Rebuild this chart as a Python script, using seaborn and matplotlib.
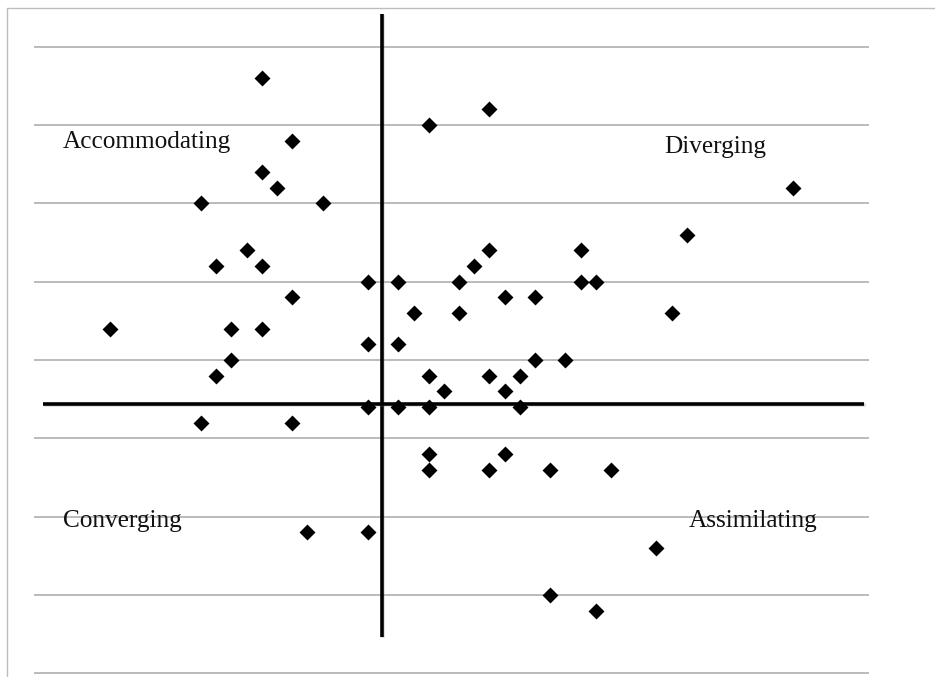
import matplotlib
matplotlib.use("Agg")
import matplotlib.pyplot as plt
import matplotlib.patheffects as pe
from matplotlib.lines import Line2D
import seaborn as sns
import pandas as pd

# ---- data ----
x_vals = [15, 17, 15, 16, 11, 19, 14, 12, 15, 17, 5, 13, 15, 13, 12, 11, 17, 18, 22, 22, 22, 22,
          26, 30, 50, 43, 30, 29, 36, 24, 28, 36, 37, 25, 28, 31, 33, 42, 24, 33, 35, 26, 30, 32,
          27, 31, 24, 26, 32, 26, 26, 30, 31, 34, 38, 41, 34, 37]
y_vals = [38, 34, 32, 31, 30, 30, 27, 26, 26, 24, 22, 22, 22, 20, 19, 16, 16, 9, 9, 25, 21, 17,
          35, 36, 31, 28, 27, 26, 27, 25, 25, 25, 25, 23, 23, 24, 24, 23, 21, 20, 20, 19, 19, 19,
          18, 18, 17, 17, 17, 14, 13, 13, 14, 13, 13, 8, 5, 4]
grid_levels = [0, 5, 10, 15, 20, 25, 30, 35, 40]
x_range = [0, 55]
quadrant_labels = ["Accommodating", "Diverging", "Converging", "Assimilating"]
label_x = [1.9, 41.5, 1.9, 43.1]
label_y = [33.55, 33.2, 9.35, 9.35]
cross_x = 22.94          # vertical dividing line
cross_y = 17.2           # horizontal dividing line
vline_span = [2.3, 42.1]
hline_span = [0.6, 54.7]

df = pd.DataFrame({"x": x_vals, "y": y_vals})

sns.set_theme(style="white")
plt.rcParams["font.family"] = ["Liberation Serif", "DejaVu Serif"]

fig = plt.figure(figsize=(9.35, 6.77), dpi=100)
ax = fig.add_axes([0, 0, 1, 1])
ax.set_xlim(-2.246, 59.35)
ax.set_ylim(-0.236, 42.97)
ax.axis("off")

# frame (left/top visible, rest cropped)
fig.add_artist(Line2D([0.008, 0.008], [0.0, 0.9877], transform=fig.transFigure,
                      color="#bdbdbd", lw=1.0))
fig.add_artist(Line2D([0.008, 1.0], [0.9877, 0.9877], transform=fig.transFigure,
                      color="#bdbdbd", lw=1.0))

# gridlines
ax.hlines(grid_levels, x_range[0], x_range[1], colors="#a8a8a8", lw=1.1, zorder=1)

# dividing axes with a slight shadow
shadow = [pe.SimpleLineShadow(offset=(0.8, -0.8), shadow_color="#888888", alpha=0.3),
          pe.Normal()]
ax.plot([cross_x, cross_x], vline_span, color="black", lw=2.6, zorder=2,
        solid_capstyle="butt", path_effects=shadow)
ax.plot(hline_span, [cross_y, cross_y], color="black", lw=2.6, zorder=2,
        solid_capstyle="butt", path_effects=shadow)

# points
sns.scatterplot(data=df, x="x", y="y", marker="D", s=66, color="black",
                linewidth=0, ax=ax, zorder=3, legend=False)

for lab, lx, ly in zip(quadrant_labels, label_x, label_y):
    ax.text(lx, ly, lab, fontsize=18.2, color="#111111", va="baseline", ha="left", zorder=4)

fig.savefig("out.png", dpi=100)
